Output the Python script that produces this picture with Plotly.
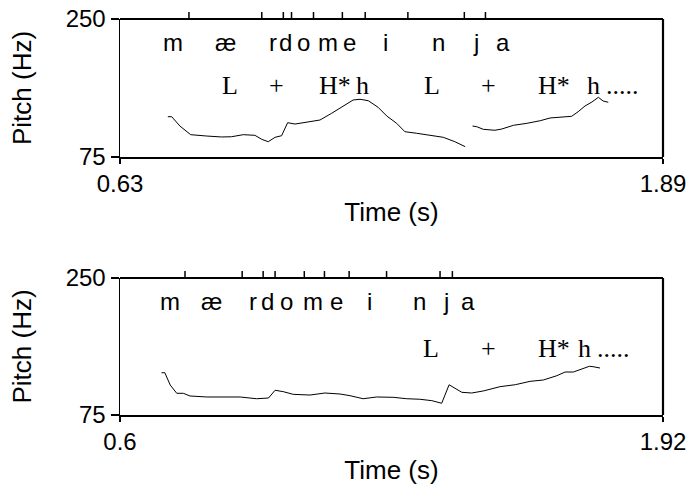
import plotly.graph_objects as go

# ---------------- data ----------------
# top panel
t1_range = [0.63, 1.89]
t1_ticklabels = ["0.63", "1.89"]
pitch1a_t = [0.741, 0.750, 0.769, 0.794, 0.831, 0.866, 0.889, 0.916, 0.943, 0.959, 0.974, 0.990,
             1.005, 1.019, 1.036, 1.063, 1.094, 1.121, 1.148, 1.171, 1.187, 1.206, 1.229, 1.249,
             1.272, 1.291, 1.318, 1.349, 1.380, 1.407, 1.431]
pitch1a_hz = [126.1, 126.1, 114.3, 103.3, 101.6, 100.4, 100.7, 103.3, 102.5, 97.4, 94.4, 100.0,
              102.0, 118.5, 116.8, 119.4, 121.9, 130.4, 139.7, 147.3, 148.2, 146.4, 138.0, 127.0,
              117.7, 107.1, 105.1, 102.9, 100.0, 94.4, 88.1]
pitch1b_t = [1.448, 1.458, 1.473, 1.500, 1.516, 1.543, 1.574, 1.605, 1.628, 1.659, 1.678, 1.693,
             1.709, 1.725, 1.740, 1.751, 1.763]
pitch1b_hz = [114.3, 113.4, 110.1, 108.9, 110.5, 115.2, 117.7, 121.0, 124.5, 125.7, 126.6, 132.4,
              139.7, 144.7, 150.7, 146.0, 144.4]
bounds1 = [0.790, 0.959, 1.009, 1.028, 1.079, 1.146, 1.199, 1.298, 1.429, 1.478]
seg1_text = ["m", "æ", "r", "d", "o", "m", "e", "i", "n", "j", "a"]
seg1_t = [0.752, 0.874, 0.985, 1.015, 1.055, 1.113, 1.162, 1.247, 1.369, 1.455, 1.519]
tone1_text = ["L", "+", "H*", "h", "L", "+", "H*", "h", "....."]
tone1_t = [0.885, 0.993, 1.129, 1.193, 1.354, 1.486, 1.636, 1.728, 1.797]

# bottom panel
t2_range = [0.6, 1.92]
t2_ticklabels = ["0.6", "1.92"]
pitch2_t = [0.701, 0.709, 0.722, 0.738, 0.754, 0.770, 0.811, 0.851, 0.892, 0.932, 0.961, 0.977,
            0.997, 1.021, 1.062, 1.098, 1.135, 1.159, 1.191, 1.224, 1.264, 1.297, 1.329, 1.358,
            1.382, 1.400, 1.431, 1.455, 1.483, 1.524, 1.561, 1.597, 1.629, 1.662, 1.682, 1.702,
            1.722, 1.741, 1.750, 1.767]
pitch2_hz = [129.0, 129.0, 113.3, 102.7, 102.7, 99.3, 98.0, 98.4, 98.0, 95.8, 96.7, 106.6,
             104.8, 101.4, 100.5, 103.1, 101.8, 99.7, 95.8, 98.0, 97.6, 95.8, 95.1, 93.3,
             90.0, 113.6, 104.0, 103.1, 105.7, 111.2, 113.7, 118.0, 119.7, 125.2, 129.9, 129.9,
             134.1, 137.2, 136.7, 135.0]
bounds2 = [0.758, 0.897, 0.948, 0.977, 1.048, 1.097, 1.157, 1.248, 1.378, 1.408]
seg2_text = ["m", "æ", "r", "d", "o", "m", "e", "i", "n", "j", "a"]
seg2_t = [0.722, 0.823, 0.924, 0.959, 1.005, 1.070, 1.127, 1.206, 1.329, 1.393, 1.447]
tone2_text = ["L", "+", "H*", "h", "....."]
tone2_t = [1.357, 1.497, 1.656, 1.728, 1.799]

pitch_range = [75, 250]
pitch_ticks = [75, 250]
seg_y = 220
tone1_y = 166
tone2_y = 160

# ---------------- figure ----------------
SANS = "Liberation Sans, Arial, sans-serif"
SERIF = "Liberation Serif, Times New Roman, serif"
FS_TICK = 24
FS_TITLE = 26
FS_SEG = 24
FS_TONE = 26

fig = go.Figure()
line = dict(color="black", width=1)
fig.add_trace(go.Scatter(x=pitch1a_t, y=pitch1a_hz, mode="lines", line=line, xaxis="x", yaxis="y"))
fig.add_trace(go.Scatter(x=pitch1b_t, y=pitch1b_hz, mode="lines", line=line, xaxis="x", yaxis="y"))
fig.add_trace(go.Scatter(x=pitch2_t, y=pitch2_hz, mode="lines", line=line, xaxis="x2", yaxis="y2"))

xdom = [120 / 690, 663 / 690]
ydom1 = [1 - 157 / 486, 1 - 19 / 486]
ydom2 = [1 - 415 / 486, 1 - 278 / 486]

def xax(rng, labels, anchor):
    return dict(domain=xdom, range=rng, anchor=anchor, tickmode="array", tickvals=rng,
                ticktext=labels, ticks="outside", ticklen=5, tickwidth=1.5, tickcolor="black",
                showline=True, linecolor="black", linewidth=1.5, showgrid=False, zeroline=False,
                automargin=False,
                tickfont=dict(family=SANS, size=FS_TICK, color="black"),
                title=dict(text="Time (s)", font=dict(family=SANS, size=FS_TITLE, color="black"), standoff=6))

def yax(dom, anchor):
    return dict(domain=dom, range=pitch_range, anchor=anchor, tickmode="array", tickvals=pitch_ticks,
                ticks="outside", ticklen=8, tickwidth=1.5, tickcolor="black",
                showline=True, linecolor="black", linewidth=1.5, showgrid=False, zeroline=False,
                automargin=False,
                tickfont=dict(family=SANS, size=FS_TICK, color="black"), ticklabelstandoff=0,
                title=dict(text="Pitch (Hz)", font=dict(family=SANS, size=FS_TITLE, color="black"), standoff=26))

fig.update_layout(
    width=690, height=486, margin=dict(l=0, r=0, t=0, b=0, autoexpand=False),
    paper_bgcolor="white", plot_bgcolor="white", showlegend=False,
    xaxis=xax(t1_range, t1_ticklabels, "y"), yaxis=yax(ydom1, "x"),
    xaxis2=xax(t2_range, t2_ticklabels, "y2"), yaxis2=yax(ydom2, "x2"),
)

# box top/right edges
for xr, yr in [("x", "y"), ("x2", "y2")]:
    fig.add_shape(type="line", xref=xr + " domain", yref=yr + " domain", x0=0, x1=1, y0=1, y1=1,
                  line=dict(color="black", width=2.2))
    fig.add_shape(type="line", xref=xr + " domain", yref=yr + " domain", x0=1, x1=1, y0=0, y1=1,
                  line=dict(color="black", width=2.2))

# segment boundary ticks on top edge
for xr, yr, bounds in [("x", "y", bounds1), ("x2", "y2", bounds2)]:
    for b in bounds:
        fig.add_shape(type="line", xref=xr, yref=yr + " domain", x0=b, x1=b, y0=1, y1=1 + 7 / 138,
                      line=dict(color="black", width=1.5))

# labels
for xr, yr, txts, ts in [("x", "y", seg1_text, seg1_t), ("x2", "y2", seg2_text, seg2_t)]:
    for s, t in zip(txts, ts):
        fig.add_annotation(x=t, y=seg_y, xref=xr, yref=yr, text=s, showarrow=False,
                           font=dict(family=SANS, size=FS_SEG, color="black"))
for xr, yr, txts, ts, ty in [("x", "y", tone1_text, tone1_t, tone1_y), ("x2", "y2", tone2_text, tone2_t, tone2_y)]:
    for s, t in zip(txts, ts):
        fig.add_annotation(x=t, y=ty, xref=xr, yref=yr, text=s, showarrow=False,
                           font=dict(family=SERIF, size=FS_TONE, color="black"))

fig.write_html("out.html", config={"displayModeBar": False, "staticPlot": True},
               post_script="document.body.style.margin='0px';")
